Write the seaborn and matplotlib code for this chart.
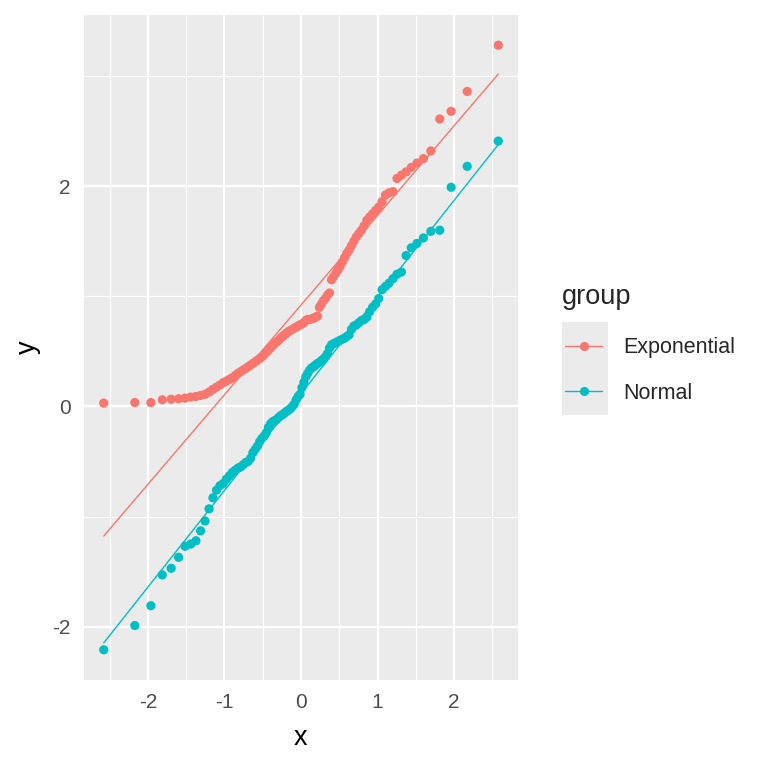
import matplotlib
matplotlib.use("Agg")
import numpy as np
import pandas as pd
import matplotlib.pyplot as plt
import seaborn as sns
from matplotlib.lines import Line2D
from matplotlib.patches import Rectangle
from statistics import NormalDist

# sorted sample values (100 per group)
groups = ["Exponential", "Normal"]
exp_sample = [
    0.03, 0.035, 0.035, 0.06, 0.065, 0.07, 0.075, 0.085, 0.09, 0.10,
    0.11, 0.13, 0.155, 0.175, 0.195, 0.215, 0.23, 0.245, 0.26, 0.28,
    0.30, 0.315, 0.33, 0.345, 0.36, 0.375, 0.39, 0.405, 0.42, 0.435,
    0.45, 0.47, 0.49, 0.51, 0.53, 0.55, 0.57, 0.585, 0.60, 0.62,
    0.635, 0.65, 0.665, 0.68, 0.69, 0.70, 0.71, 0.72, 0.73, 0.74,
    0.75, 0.76, 0.78, 0.79, 0.79, 0.795, 0.80, 0.81, 0.82, 0.90,
    0.93, 0.96, 0.98, 1.01, 1.03, 1.15, 1.18, 1.21, 1.24, 1.27,
    1.31, 1.35, 1.39, 1.42, 1.46, 1.50, 1.54, 1.57, 1.60, 1.64,
    1.69, 1.72, 1.75, 1.78, 1.81, 1.86, 1.92, 1.94, 1.95, 2.07,
    2.10, 2.13, 2.17, 2.21, 2.25, 2.32, 2.61, 2.68, 2.86, 3.28,
]
norm_sample = [
    -2.21, -1.99, -1.81, -1.53, -1.47, -1.37, -1.27, -1.25, -1.22, -1.13,
    -1.04, -0.93, -0.83, -0.76, -0.72, -0.70, -0.66, -0.63, -0.60, -0.58,
    -0.56, -0.55, -0.53, -0.51, -0.50, -0.47, -0.42, -0.39, -0.36, -0.32,
    -0.29, -0.27, -0.24, -0.19, -0.16, -0.14, -0.13, -0.12, -0.10, -0.085,
    -0.075, -0.06, -0.045, -0.035, -0.02, 0.0, 0.02, 0.06, 0.09, 0.11,
    0.17, 0.22, 0.27, 0.30, 0.33, 0.35, 0.36, 0.375, 0.39, 0.40,
    0.415, 0.43, 0.45, 0.48, 0.53, 0.56, 0.57, 0.58, 0.59, 0.60,
    0.61, 0.62, 0.635, 0.65, 0.70, 0.73, 0.74, 0.76, 0.78, 0.79,
    0.81, 0.86, 0.90, 0.93, 0.98, 1.06, 1.09, 1.12, 1.16, 1.20,
    1.22, 1.37, 1.44, 1.48, 1.53, 1.59, 1.60, 1.99, 2.18, 2.41,
]
palette = {"Exponential": "#F8766D", "Normal": "#00BFC4"}

nd = NormalDist()


def qq_points(sample, name):
    n = len(sample)
    p = (np.arange(1, n + 1) - 0.5) / n
    theo = [nd.inv_cdf(v) for v in p]
    return pd.DataFrame({"x": theo, "y": np.sort(sample), "group": name})


def qq_line(pts):
    # line through the 1st and 3rd quartiles, like stat_qq_line
    q1, q3 = np.quantile(pts["y"], [0.25, 0.75])
    t1, t3 = nd.inv_cdf(0.25), nd.inv_cdf(0.75)
    slope = (q3 - q1) / (t3 - t1)
    icpt = q1 - slope * t1
    xs = np.array([pts["x"].min(), pts["x"].max()])
    return pd.DataFrame({"x": xs, "y": icpt + slope * xs, "group": pts["group"].iloc[0]})


pts = pd.concat([qq_points(exp_sample, "Exponential"), qq_points(norm_sample, "Normal")],
                ignore_index=True)
lines = pd.concat([qq_line(g) for _, g in pts.groupby("group")], ignore_index=True)

sns.set_theme(style="white")
plt.rcParams["font.family"] = ["Liberation Sans", "DejaVu Sans"]
plt.rcParams["axes.unicode_minus"] = False

fig = plt.figure(figsize=(7.68, 7.68), dpi=100)
ax = fig.add_axes([84 / 768, 88 / 768, 434 / 768, 665 / 768])
ax.set_facecolor("#EBEBEB")

# grid like theme_grey
for v in [-2.5, -1.5, -0.5, 0.5, 1.5, 2.5]:
    ax.axvline(v, color="white", lw=0.8, zorder=0)
for v in [-3, -1, 1, 3]:
    ax.axhline(v, color="white", lw=0.8, zorder=0)
for v in [-2, -1, 0, 1, 2]:
    ax.axvline(v, color="white", lw=1.6, zorder=0)
for v in [-2, 0, 2]:
    ax.axhline(v, color="white", lw=1.6, zorder=0)

sns.lineplot(data=lines, x="x", y="y", hue="group", palette=palette, ax=ax,
             legend=False, linewidth=1.0, zorder=2)
sns.scatterplot(data=pts, x="x", y="y", hue="group", palette=palette, ax=ax,
                legend=False, s=44, linewidth=0, zorder=3)

xmin, xmax = pts["x"].min(), pts["x"].max()
ymin, ymax = pts["y"].min(), pts["y"].max()
ax.set_xlim(xmin - 0.05 * (xmax - xmin), xmax + 0.05 * (xmax - xmin))
ax.set_ylim(ymin - 0.05 * (ymax - ymin), ymax + 0.05 * (ymax - ymin))
ax.set_xticks([-2, -1, 0, 1, 2])
ax.set_yticks([-2, 0, 2])
ax.tick_params(axis="both", length=5.5, width=1.1, color="#333333",
               labelcolor="#4D4D4D", labelsize=15, pad=4)
for s in ax.spines.values():
    s.set_visible(False)
ax.set_xlabel("x", fontsize=19.5, color="black", labelpad=9)
ax.set_ylabel("y", fontsize=19.5, color="black", labelpad=8)

# legend: title, grey key background, entries
fig.text(562 / 768, 1 - 297 / 768, "group", fontsize=19.5, ha="left", va="center")
fig.patches.append(Rectangle((562 / 768, 353 / 768), 46 / 768, 93 / 768,
                             transform=fig.transFigure, facecolor="#EBEBEB",
                             edgecolor="none", zorder=0))
handles = [Line2D([], [], color=palette[g], lw=1.0, marker="o", markersize=6.6,
                  markeredgewidth=0) for g in groups]
fig.legend(handles, groups, loc="center left", bbox_to_anchor=(565 / 768, 1 - 370.5 / 768),
           frameon=False, fontsize=15.5, handlelength=1.72, handletextpad=1.0,
           labelspacing=1.15, borderaxespad=0, borderpad=0)

fig.savefig("out.png", dpi=100)
